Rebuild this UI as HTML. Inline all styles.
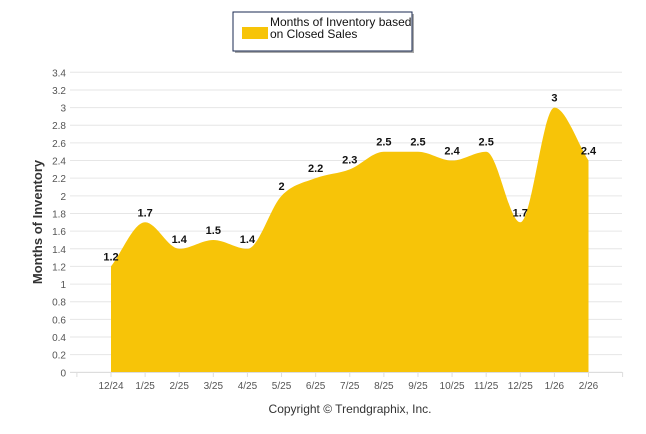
<!DOCTYPE html>
<html><head><meta charset="utf-8"><style>
body{margin:0;background:#fff;width:646px;height:434px;overflow:hidden;font-family:"Liberation Sans",sans-serif}
</style></head><body>
<svg id="c" width="646" height="434" style="position:absolute;left:0;top:0">
<g id="grid"></g>
<g id="yt"></g>
<path id="area" fill="#F7C408"/>
<g id="xt"></g>
<g id="lbl"></g>
<text x="42" y="222" transform="rotate(-90 42 222)" text-anchor="middle" font-size="13" font-weight="bold" fill="#333">Months of Inventory</text>
<text x="350" y="413" text-anchor="middle" font-size="12" fill="#333">Copyright © Trendgraphix, Inc.</text>
<g>
<rect x="235" y="14" width="179" height="39" fill="#555" opacity="0.5"/>
<rect x="233" y="12" width="179" height="39" fill="#fff" stroke="#1a2a50" stroke-width="1"/>
<rect x="242" y="27" width="26" height="12" fill="#F7C408"/>
<text x="270" y="26" font-size="12" fill="#111">Months of Inventory based</text>
<text x="270" y="38" font-size="12" fill="#111">on Closed Sales</text>
</g>
</svg>
<script>
const categories=["12/24","1/25","2/25","3/25","4/25","5/25","6/25","7/25","8/25","9/25","10/25","11/25","12/25","1/26","2/26"];
const values=[1.2,1.7,1.4,1.5,1.4,2,2.2,2.3,2.5,2.5,2.4,2.5,1.7,3,2.4];
const yTicks=[0,0.2,0.4,0.6,0.8,1,1.2,1.4,1.6,1.8,2,2.2,2.4,2.6,2.8,3,3.2,3.4];
const NS="http://www.w3.org/2000/svg";
const x=i=>111+i*(588.5-111)/(categories.length-1);
const y=v=>372.3-v*(300/3.4);
function mk(t,a,p){const e=document.createElementNS(NS,t);for(const k in a)e.setAttribute(k,a[k]);p.appendChild(e);return e;}
const grid=document.getElementById('grid'),yt=document.getElementById('yt'),xt=document.getElementById('xt'),lbl=document.getElementById('lbl');
yTicks.forEach(v=>{
 const l=mk('line',{x1:70,x2:622,y1:y(v),y2:y(v),stroke:'#e6e6e6','stroke-width':1},grid);
 
 
 const t=mk('text',{x:66,y:y(v)+4,'text-anchor':'end','font-size':10,fill:'#555'},yt);
 t.textContent=String(v);
 
 
});
mk('line',{x1:70,x2:622,y1:372.5,y2:372.5,stroke:'#ddd'},xt);
for(let i=-1;i<=categories.length;i++){mk('line',{x1:x(i),x2:x(i),y1:372,y2:377,stroke:'#ddd'},xt);}
categories.forEach((c,i)=>{
 const t=mk('text',{x:x(i),y:389,'text-anchor':'middle','font-size':10,fill:'#555'},xt);
 t.textContent=c;
 
 
});
// smooth path (monotone-like cardinal)
const P=values.map((v,i)=>[x(i),y(v)]);
let d=`M${P[0][0]},${y(0)} L${P[0][0]},${P[0][1]}`;
const n=P.length;
const m=P.map((p,i)=>{
 if(i===0)return (P[1][1]-p[1])/(P[1][0]-p[0]);
 if(i===n-1)return (p[1]-P[i-1][1])/(p[0]-P[i-1][0]);
 const d0=(p[1]-P[i-1][1]),d1=(P[i+1][1]-p[1]);
 if(d0*d1<=0)return 0;
 return (P[i+1][1]-P[i-1][1])/(P[i+1][0]-P[i-1][0]);
});
for(let i=0;i<n-1;i++){
 const h=(P[i+1][0]-P[i][0])/3;
 d+=` C${P[i][0]+h},${P[i][1]+m[i]*h} ${P[i+1][0]-h},${P[i+1][1]-m[i+1]*h} ${P[i+1][0]},${P[i+1][1]}`;
}
d+=` L${P[n-1][0]},${y(0)} Z`;
document.getElementById('area').setAttribute('d',d);
values.forEach((v,i)=>{
 const t=mk('text',{x:x(i),y:y(v)-6,'text-anchor':'middle','font-size':11,'font-weight':'bold',fill:'#111'},lbl);
 t.textContent=String(v);
 
 
});
</script>
</body></html>
